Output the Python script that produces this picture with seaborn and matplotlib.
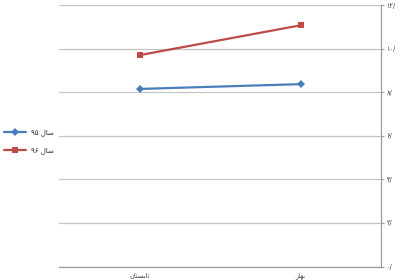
import matplotlib
matplotlib.use("Agg")
import matplotlib.pyplot as plt
import seaborn as sns
import pandas as pd
from matplotlib.ticker import FixedLocator

# Visual (shaped, display-order) forms of the Persian labels
cat_summer = "\uFEE5\uFE8E\uFE98\uFEB4\uFE91\uFE8E\uFE97"   # تابستان
cat_spring = "\uFEAD\uFE8E\uFEEC\uFE91"                      # بهار
categories = [cat_spring, cat_summer]
series_95 = "۹۵ \uFEDD\uFE8E\uFEB3"   # سال ۹۵
series_96 = "۹۶ \uFEDD\uFE8E\uFEB3"   # سال ۹۶
values_95 = [8.37, 8.15]
values_96 = [11.07, 9.70]
ytick_vals = [0, 2, 4, 6, 8, 10, 12]
ytick_labels = ["۰/", "۲/", "۴/", "۶/", "۸/", "۱۰/", "۱۲/"]

df = pd.DataFrame({
    "cat": categories * 2,
    "x": [0, 1, 0, 1],
    "value": values_95 + values_96,
    "series": [series_95] * 2 + [series_96] * 2,
})

sns.set_style("white")
plt.rcParams["font.family"] = ["DejaVu Sans"]

fig = plt.figure(figsize=(4, 2.8), dpi=100)
ax = fig.add_axes([0.1475, 0.048, 0.805, 0.934])

sns.lineplot(data=df, x="x", y="value", hue="series", style="series",
             hue_order=[series_95, series_96],
             palette=["#4A7EBB", "#BE4B48"],
             markers={series_95: "D", series_96: "s"}, dashes=False,
             markersize=4.5, linewidth=1.6, markeredgewidth=0,
             ax=ax)

ax.set_xlim(1.5, -0.5)
ax.set_ylim(0, 12)
ax.set_xlabel("")
ax.set_ylabel("")

ax.yaxis.tick_right()
ax.set_yticks(ytick_vals)
ax.set_yticklabels(ytick_labels, fontsize=4.8, color="#404040")
ax.yaxis.grid(True, color="#c4c4c4", linewidth=0.9)
ax.set_axisbelow(True)
ax.tick_params(axis="y", which="major", direction="out", length=2.5,
               color="#9a9a9a", width=0.8, pad=1.5)

ax.set_xticks([0, 1])
ax.set_xticklabels(categories, fontsize=4.8, color="#404040")
ax.xaxis.set_minor_locator(FixedLocator([0.5]))
ax.tick_params(axis="x", which="major", length=0, pad=4)
ax.tick_params(axis="x", which="minor", direction="out", length=2.5,
               color="#9a9a9a", width=0.8)

for side in ["top", "left"]:
    ax.spines[side].set_visible(False)
for side in ["right", "bottom"]:
    ax.spines[side].set_color("#9a9a9a")
    ax.spines[side].set_linewidth(0.9)

leg = ax.legend(loc="center left", bbox_to_anchor=(0.0, 0.493),
                bbox_transform=fig.transFigure, frameon=False,
                fontsize=5, handlelength=3.2, labelspacing=1.6,
                handletextpad=0.6, borderaxespad=0.2)

fig.savefig("out.png", dpi=100)
